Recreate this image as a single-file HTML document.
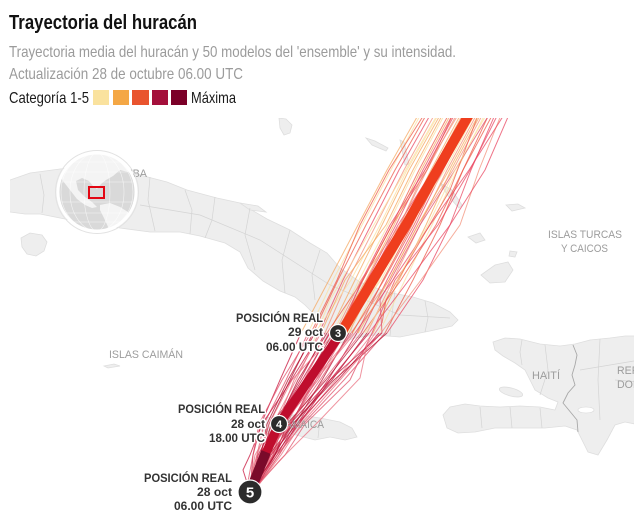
<!DOCTYPE html>
<html><head><meta charset="utf-8">
<style>
html,body{margin:0;padding:0;background:#fff;}
svg{display:block;}
text{font-family:"Liberation Sans",Arial,sans-serif;}
.lbl{font-size:12px;font-weight:bold;fill:#333;stroke:#fff;stroke-width:3px;paint-order:stroke;stroke-linejoin:round;}
.map{font-size:11px;fill:#9c9c9c;}
</style></head>
<body>
<svg width="642" height="527" viewBox="0 0 642 527" xmlns="http://www.w3.org/2000/svg">
<defs>
<clipPath id="mc"><rect x="10" y="118" width="624" height="409"/></clipPath>
<clipPath id="gc"><circle cx="97" cy="192" r="39"/></clipPath>
</defs>
<rect width="642" height="527" fill="#fff"/>

<!-- Header -->
<text x="9" y="29" font-size="20" font-weight="bold" fill="#111" textLength="188" lengthAdjust="spacingAndGlyphs">Trayectoria del huracán</text>
<text x="9" y="57" font-size="16" fill="#9b9b9b" textLength="447" lengthAdjust="spacingAndGlyphs">Trayectoria media del huracán y 50 modelos del 'ensemble' y su intensidad.</text>
<text x="9" y="79" font-size="16" fill="#9b9b9b" textLength="234" lengthAdjust="spacingAndGlyphs">Actualización 28 de octubre 06.00 UTC</text>
<text x="9" y="103" font-size="16" fill="#1a1a1a" textLength="80" lengthAdjust="spacingAndGlyphs">Categoría 1-5</text>
<rect x="93" y="90" width="16" height="15" fill="#fae29e"/>
<rect x="113" y="90" width="16" height="15" fill="#f4a745"/>
<rect x="132" y="90" width="17" height="15" fill="#e9542e"/>
<rect x="152" y="90" width="16" height="15" fill="#a4103b"/>
<rect x="171" y="90" width="16" height="15" fill="#7b0028"/>
<text x="191" y="103" font-size="16" fill="#1a1a1a" textLength="45" lengthAdjust="spacingAndGlyphs">Máxima</text>

<g clip-path="url(#mc)">
<!-- Land -->
<g fill="#eeeeee" stroke="#dedede" stroke-width="0.8">
<polygon points="0,182 10,180 30,173 60,169 90,166 120,170 140,175 167,182 187,190 217,198 240,203 267,219 290,230 310,243 327,253 340,268 360,282 387,292 413,297 433,303 450,312 458,320 452,326 430,331 400,337 375,335 355,338 335,345 325,342 322,330 318,318 305,305 295,297 280,291 263,281 248,268 240,252 225,243 200,236 180,232 150,232 120,228 100,224 80,222 60,218 40,214 25,214 10,212 0,212"/>
<polygon points="21,238 30,233 42,235 47,242 44,251 36,256 27,254 22,247"/>
<polygon points="279,118 286,119 292,125 290,133 284,135 280,128"/>
<polygon points="366,138 375,141 388,148 386,151 372,145"/>
<polygon points="400,140 404,142 409,164 405,165"/>
<polygon points="440,183 452,190 462,205 459,208 448,196"/>
<polygon points="506,205 518,204 525,208 512,211"/>
<polygon points="468,237 480,233 485,240 476,243"/>
<polygon points="481,275 495,265 508,262 513,270 505,282 490,283"/>
<polygon points="510,251 517,252 515,257 509,256"/>
<polygon points="240,203 258,206 266,212 250,210"/>
<polygon points="255,425 265,418 285,415 300,415 320,418 340,422 352,428 357,437 345,440 330,437 315,440 300,436 285,432 270,432 258,430"/>
<polygon points="104,366 114,364 120,366 108,368"/>
<polygon points="493,342 505,338 520,339 540,344 560,346 575,344 590,340 610,338 625,336 640,336 640,425 625,422 615,425 607,440 598,455 588,452 582,440 577,430 565,426 545,428 520,428 495,428 475,432 458,433 447,428 443,415 450,407 465,404 480,406 500,407 520,406 540,407 555,410 558,402 548,398 535,390 530,380 525,370 515,363 503,356 495,350"/>
<ellipse cx="511" cy="392" rx="12" ry="4" transform="rotate(15 511 392)"/>
</g>
<ellipse cx="586" cy="410" rx="8" ry="3" fill="#fff" stroke="#d8d8d8" stroke-width="0.6"/>
<g fill="none" stroke="#d4d4d4" stroke-width="0.7">
<polyline points="40,174 44,195 42,213"/>
<polyline points="150,177 148,200 155,231"/>
<polyline points="185,190 192,210 190,234"/>
<polyline points="215,197 212,220 205,238"/>
<polyline points="250,208 245,235 255,270"/>
<polyline points="290,230 282,260 285,293"/>
<polyline points="320,250 312,275 315,300"/>
<polyline points="360,282 355,310 350,338"/>
<polyline points="395,291 392,315 390,336"/>
<polyline points="425,301 428,318 425,332"/>
<polyline points="140,205 200,215 260,240 330,285 400,315 450,318"/>
<polyline points="522,340 520,352 522,365"/>
<polyline points="545,345 548,370 540,395"/>
<polyline points="600,339 598,380 600,420"/>
<polyline points="615,380 640,382"/>
<polyline points="480,407 482,428"/>
<polyline points="510,407 512,428"/>
<polyline points="540,408 542,428"/>
<polyline points="580,370 640,360"/>
<polyline points="290,416 292,434"/>
<polyline points="320,419 318,438"/>
</g>
<polyline points="573,345 577,355 575,365 572,375 575,385 568,393 563,403 577,420 578,432" fill="none" stroke="#a8a8a8" stroke-width="0.9"/>

<!-- Ensemble lines -->
<g fill="none" stroke-width="1" stroke-opacity="0.75" stroke-linejoin="round">
<g>
<polyline stroke="#c8143c" points="250,492 253,455 261,424 280,380 301,333"/>
<polyline stroke="#e0506a" points="248,492 257,455 264,424 286,380 308,333"/>
<polyline stroke="#b3102f" points="252,492 260,455 269,424 290,380 313,333"/>
<polyline stroke="#ea7080" points="249,492 255,455 273,424 296,380 319,333"/>
<polyline stroke="#c8143c" points="253,492 265,455 275,424 300,380 325,333"/>
<polyline stroke="#e0506a" points="250,492 269,455 281,424 304,380 329,333"/>
<polyline stroke="#b3102f" points="247,492 263,455 271,424 306,380 333,333"/>
<polyline stroke="#ea7080" points="251,492 271,455 285,424 310,380 337,333"/>
<polyline stroke="#c8143c" points="254,492 275,455 291,424 314,380 341,333"/>
<polyline stroke="#e0506a" points="248,492 273,455 283,424 318,380 345,333"/>
<polyline stroke="#b3102f" points="252,492 277,455 295,424 322,380 349,333"/>
<polyline stroke="#ea7080" points="250,492 259,455 279,424 314,380 353,333"/>
<polyline stroke="#c8143c" points="253,492 279,455 297,424 328,380 357,333"/>
<polyline stroke="#e0506a" points="249,492 267,455 289,424 324,380 361,333"/>
<polyline stroke="#b3102f" points="251,492 274,455 293,424 332,380 367,333"/>
<polyline stroke="#ea7080" points="254,492 279,455 299,424 336,380 373,333"/>
<polyline stroke="#c8143c" points="250,492 271,455 297,424 338,380 379,333"/>
<polyline stroke="#e0506a" points="252,492 277,455 303,424 344,380 385,333"/>
<polyline stroke="#b3102f" points="248,492 269,455 293,424 334,380 387,333"/>
<polyline stroke="#ea7080" points="253,492 281,455 301,424 340,380 381,333"/>
<polyline stroke="#c8143c" points="251,492 275,455 299,424 330,380 369,333"/>
<polyline stroke="#e0506a" points="246,492 253,455 259,424 282,380 311,333"/>
<polyline stroke="#b3102f" points="250,492 261,455 267,424 288,380 315,333"/>
<polyline stroke="#ea7080" points="252,492 269,455 277,424 294,380 321,333"/>
<polyline stroke="#c8143c" points="249,492 265,455 283,424 308,380 335,333"/>
<polyline stroke="#e0506a" points="253,492 273,455 289,424 320,380 351,333"/>
<polyline stroke="#b3102f" points="250,492 275,455 287,424 326,380 363,333"/>
<polyline stroke="#ea7080" points="248,492 261,455 283,424 316,380 355,333"/>
<polyline stroke="#c8143c" points="251,492 263,455 275,424 312,380 343,333"/>
<polyline stroke="#e0506a" points="252,492 271,455 291,424 316,380 343,333"/>
<polyline stroke="#b3102f" points="250,492 267,455 277,424 298,380 327,333"/>
<polyline stroke="#ea7080" points="247,492 257,455 269,424 292,380 335,333"/>
<polyline stroke="#e0506a" points="251,492 285,455 305,424 350,380 372,333"/>
<polyline stroke="#c8143c" points="250,492 262,455 290,424 330,380 382,333"/>
<polyline stroke="#ea7080" points="252,492 280,460 320,420 360,378 367,345 382,323"/>
<polyline stroke="#c8143c" points="250,492 243,470 250,455 262,424 285,390 310,350"/>
<polyline stroke="#b3102f" points="249,492 262,455 280,424 306,380 338,333"/>
<polyline stroke="#e0506a" points="251,492 268,455 286,424 312,380 346,333"/>
<polyline stroke="#c8143c" points="250,492 258,455 275,424 302,380 330,333"/>
</g>
<g>
<polyline stroke="#f5a860" points="301,333 329,280 358,225 387,170 421,110"/>
<polyline stroke="#fbe0a0" points="308,333 333,280 362,225 391,170 423,110"/>
<polyline stroke="#ee5a48" points="313,333 338,280 366,225 395,170 429,110"/>
<polyline stroke="#e94560" points="319,333 343,280 371,225 399,170 433,110"/>
<polyline stroke="#f3907a" points="325,333 348,280 376,225 404,170 437,110"/>
<polyline stroke="#f5a860" points="329,333 355,280 382,225 409,170 443,110"/>
<polyline stroke="#fbe0a0" points="333,333 359,280 388,225 415,170 447,110"/>
<polyline stroke="#ee5a48" points="337,333 363,280 392,225 419,170 451,110"/>
<polyline stroke="#e94560" points="341,333 367,280 396,225 423,170 455,110"/>
<polyline stroke="#f3907a" points="345,333 371,280 400,225 427,170 459,110"/>
<polyline stroke="#f5a860" points="349,333 375,280 404,225 431,170 463,110"/>
<polyline stroke="#fbe0a0" points="353,333 379,280 408,225 435,170 467,110"/>
<polyline stroke="#ee5a48" points="357,333 383,280 412,225 439,170 471,110"/>
<polyline stroke="#e94560" points="361,333 387,280 416,225 443,170 475,110"/>
<polyline stroke="#f3907a" points="367,333 393,280 420,225 447,170 479,110"/>
<polyline stroke="#f5a860" points="373,333 399,280 426,225 451,170 483,110"/>
<polyline stroke="#fbe0a0" points="379,333 405,280 432,225 457,170 487,110"/>
<polyline stroke="#ee5a48" points="385,333 413,280 440,225 463,170 491,110"/>
<polyline stroke="#e94560" points="387,333 423,280 450,225 471,170 497,110"/>
<polyline stroke="#f3907a" points="381,333 421,280 460,225 479,170 503,110"/>
<polyline stroke="#e94560" points="369,333 409,280 450,225 485,170 511,110"/>
<polyline stroke="#ee5a48" points="311,333 337,280 360,225 389,170 427,110"/>
<polyline stroke="#fbe0a0" points="315,333 351,280 380,225 407,170 441,110"/>
<polyline stroke="#f5a860" points="321,333 345,280 386,225 413,170 445,110"/>
<polyline stroke="#e94560" points="335,333 369,280 398,225 433,170 465,110"/>
<polyline stroke="#f3907a" points="351,333 389,280 418,225 453,170 485,110"/>
<polyline stroke="#ee5a48" points="363,333 401,280 436,225 463,170 495,110"/>
<polyline stroke="#e94560" points="355,333 393,280 430,225 469,170 507,110"/>
<polyline stroke="#fbe0a0" points="343,333 381,280 410,225 445,170 477,110"/>
<polyline stroke="#f5a860" points="343,333 371,280 408,225 435,170 473,110"/>
<polyline stroke="#ee5a48" points="327,333 363,280 392,225 427,170 455,110"/>
<polyline stroke="#f3907a" points="335,333 361,280 400,225 425,170 461,110"/>
<polyline stroke="#e94560" points="372,333 395,280 438,225 470,170 500,110"/>
<polyline stroke="#e0506a" points="382,333 380,300 420,225 455,170 492,110"/>
<polyline stroke="#ee5a48" points="382,323 386,300 415,250 450,190 480,110"/>
<polyline stroke="#fbe0a0" points="310,350 330,300 365,240 400,180 440,110"/>
<polyline stroke="#f5a860" points="336,333 366,280 394,225 421,170 453,110"/>
<polyline stroke="#fbe0a0" points="347,333 377,280 406,225 433,170 465,110"/>
<polyline stroke="#ee5a48" points="352,333 384,280 414,225 441,170 473,110"/>
<polyline stroke="#f5a860" points="358,333 389,280 418,225 449,170 481,110"/>
<polyline stroke="#e94560" points="340,333 362,280 390,225 425,170 457,110"/>
<polyline stroke="#fbe0a0" points="365,333 397,280 428,225 455,170 489,110"/>
</g>
</g>

<!-- Main track -->
<g fill="none" stroke-linejoin="round">
<polyline points="341,333 406,225 475,104" stroke="#ef3e1e" stroke-width="10"/>
<polyline points="262,462 279,424 341,333" stroke="#bf0d2d" stroke-width="9"/>
<polyline points="250,492 262,462 266,452" stroke="#7a0a2a" stroke-width="10"/>
</g>

<!-- map labels -->
<text class="map" x="117" y="177" textLength="30" lengthAdjust="spacingAndGlyphs">CUBA</text>
<text class="map" x="109" y="358" textLength="74" lengthAdjust="spacingAndGlyphs">ISLAS CAIMÁN</text>
<text class="map" x="548" y="238" textLength="74" lengthAdjust="spacingAndGlyphs">ISLAS TURCAS</text>
<text class="map" x="561" y="252" textLength="47" lengthAdjust="spacingAndGlyphs">Y CAICOS</text>
<text class="map" x="532" y="379" textLength="28" lengthAdjust="spacingAndGlyphs">HAITÍ</text>
<text class="map" x="617" y="374" textLength="60" lengthAdjust="spacingAndGlyphs">REPÚBLICA</text>
<text class="map" x="617" y="388" textLength="68" lengthAdjust="spacingAndGlyphs">DOMINICANA</text>
<text class="map" x="280" y="428" textLength="44" lengthAdjust="spacingAndGlyphs">JAMAICA</text>
</g>

<!-- Globe -->
<circle cx="97" cy="192" r="41.5" fill="none" stroke="#e2e2e2" stroke-width="1"/>
<g clip-path="url(#gc)">
<circle cx="97" cy="192" r="39" fill="#d9d9d9"/>
<polygon fill="#f4f4f4" points="58,172 62,162 72,154 86,150 100,149 116,152 128,159 135,168 128,172 120,170 113,176 106,180 101,184 97,189 93,186 89,181 82,178 76,181 78,190 85,197 92,202 97,207 92,208 85,205 77,199 70,190 63,181"/>
<polygon fill="#f4f4f4" points="100,205 110,203 120,207 128,212 131,220 126,230 116,236 109,229 104,218 100,210"/>
<g fill="none" stroke="#ffffff" stroke-opacity="0.7" stroke-width="0.6">
<ellipse cx="97" cy="192" rx="13" ry="39"/>
<ellipse cx="97" cy="192" rx="27" ry="39"/>
<ellipse cx="97" cy="192" rx="36" ry="39"/>
<line x1="58" y1="162" x2="136" y2="162"/>
<line x1="58" y1="172" x2="136" y2="172"/>
<line x1="58" y1="182" x2="136" y2="182"/>
<line x1="58" y1="202" x2="136" y2="202"/>
<line x1="58" y1="213" x2="136" y2="213"/>
<line x1="58" y1="222" x2="136" y2="222"/>
</g>
</g>
<circle cx="97" cy="192" r="39" fill="none" stroke="#fff" stroke-width="3"/>
<rect x="89" y="187" width="15" height="11" fill="none" stroke="#e30613" stroke-width="2"/>

<!-- Position labels -->
<text class="lbl" x="236" y="322" textLength="87" lengthAdjust="spacingAndGlyphs">POSICIÓN REAL</text>
<text class="lbl" x="288" y="336" textLength="35" lengthAdjust="spacingAndGlyphs">29 oct</text>
<text class="lbl" x="266" y="351" textLength="57" lengthAdjust="spacingAndGlyphs">06.00 UTC</text>

<text class="lbl" x="178" y="413" textLength="87" lengthAdjust="spacingAndGlyphs">POSICIÓN REAL</text>
<text class="lbl" x="231" y="428" textLength="34" lengthAdjust="spacingAndGlyphs">28 oct</text>
<text class="lbl" x="209" y="442" textLength="56" lengthAdjust="spacingAndGlyphs">18.00 UTC</text>

<text class="lbl" x="144" y="482" textLength="88" lengthAdjust="spacingAndGlyphs">POSICIÓN REAL</text>
<text class="lbl" x="197" y="496" textLength="35" lengthAdjust="spacingAndGlyphs">28 oct</text>
<text class="lbl" x="174" y="510" textLength="58" lengthAdjust="spacingAndGlyphs">06.00 UTC</text>

<!-- Markers -->
<circle cx="338" cy="333" r="8.5" fill="#2b2b2b" stroke="#fff" stroke-width="1.2"/>
<text x="338" y="337" font-size="11" font-weight="bold" fill="#fff" text-anchor="middle">3</text>
<circle cx="279" cy="424" r="8.5" fill="#2b2b2b" stroke="#fff" stroke-width="1.2"/>
<text x="279" y="428" font-size="11" font-weight="bold" fill="#fff" text-anchor="middle">4</text>
<circle cx="250" cy="492" r="12" fill="#2b2b2b" stroke="#fff" stroke-width="1.2"/>
<text x="250" y="497.5" font-size="15" font-weight="bold" fill="#fff" text-anchor="middle">5</text>
</svg>
</body></html>
